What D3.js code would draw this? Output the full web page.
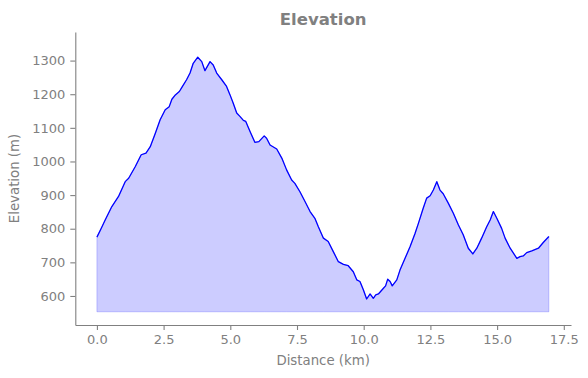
<!DOCTYPE html>
<html>
<head>
<meta charset="utf-8">
<script src="https://cdn.jsdelivr.net/npm/d3@7"></script>
<style>
  body { margin: 0; background: #fff; }
  svg { display: block; font-family: "DejaVu Sans", sans-serif; }
</style>
</head>
<body>
<svg width="588" height="378"></svg>
<script>
// distance along the route (km) and elevation (m)
const distance = [
  0.00, 0.15, 0.31, 0.56, 0.81, 1.06, 1.19, 1.44, 1.66, 1.84,
  2.00, 2.19, 2.37, 2.56, 2.71, 2.81, 2.94, 3.09, 3.19, 3.36,
  3.49, 3.61, 3.78, 3.93, 4.05, 4.24, 4.36, 4.49, 4.68, 4.86,
  4.99, 5.11, 5.24, 5.36, 5.49, 5.58, 5.74, 5.92, 6.07, 6.27,
  6.36, 6.49, 6.74, 6.93, 7.11, 7.30, 7.42, 7.61, 7.80, 7.99,
  8.17, 8.30, 8.49, 8.67, 8.86, 9.05, 9.24, 9.42, 9.61, 9.74,
  9.86, 9.99, 10.11, 10.24, 10.36, 10.45, 10.55, 10.74, 10.82, 10.90,
  10.99, 11.07, 11.24, 11.36, 11.55, 11.74, 11.92, 12.05, 12.23, 12.36,
  12.49, 12.61, 12.74, 12.86, 12.98, 13.17, 13.36, 13.55, 13.73, 13.92,
  14.09, 14.24, 14.42, 14.61, 14.74, 14.86, 14.99, 15.17, 15.30, 15.49,
  15.74, 15.86, 15.98, 16.11, 16.30, 16.55, 16.73, 16.94
];
const elevation = [
  775, 799, 826, 866, 896, 940, 950, 985, 1020, 1025,
  1044, 1084, 1124, 1154, 1163, 1185, 1198, 1208, 1221, 1243,
  1263, 1292, 1310, 1297, 1270, 1297, 1287, 1263, 1243, 1223,
  1198, 1173, 1144, 1134, 1122, 1119, 1089, 1057, 1059, 1076,
  1069, 1049, 1037, 1010, 975, 945, 935, 910, 881, 851,
  831, 806, 772, 762, 732, 702, 694, 690, 672, 648,
  643, 618, 591, 606, 593, 603, 606, 623, 630, 650,
  643, 630, 648, 677, 712, 747, 785, 816, 861, 891,
  898, 915, 940, 915, 904, 876, 846, 811, 782, 742,
  725, 742, 772, 806, 826, 851, 831, 801, 772, 742,
  712, 717, 719, 729, 734, 742, 759, 777
];
const fillBase = 553;
const xTicks = [0, 2.5, 5, 7.5, 10, 12.5, 15, 17.5];
const yTicks = [600, 700, 800, 900, 1000, 1100, 1200, 1300];

const gray = "#808080";
const svg = d3.select("svg");
const margin = { left: 75.3, right: 17, top: 32, bottom: 53 };
const W = 588, H = 378;

const x = d3.scaleLinear().domain([-0.81, 17.77]).range([margin.left, W - margin.right]);
const y = d3.scaleLinear().domain([513.7, 1385]).range([H - margin.bottom, margin.top]);

const pts = distance.map((d, i) => ({ d: d, e: elevation[i] }));

// filled area under the profile
const area = d3.area()
  .x(p => x(p.d))
  .y0(y(fillBase))
  .y1(p => y(p.e));

svg.append("path")
  .datum(pts)
  .attr("d", area)
  .attr("fill", "rgba(0,0,255,0.2)")
  .attr("stroke", "rgba(0,0,255,0.2)")
  .attr("stroke-width", 1);

// profile line
const line = d3.line()
  .x(p => x(p.d))
  .y(p => y(p.e));

svg.append("path")
  .datum(pts)
  .attr("d", line)
  .attr("fill", "none")
  .attr("stroke", "#0000ff")
  .attr("stroke-width", 1.3)
  .attr("stroke-linejoin", "round");

// axes
const xAxis = svg.append("g")
  .attr("transform", `translate(0,${H - margin.bottom})`)
  .call(d3.axisBottom(x).tickValues(xTicks).tickFormat(d3.format(".1f")).tickSize(5).tickPadding(5).tickSizeOuter(0));

const yAxis = svg.append("g")
  .attr("transform", `translate(${margin.left},0)`)
  .call(d3.axisLeft(y).tickValues(yTicks).tickFormat(d3.format("d")).tickSize(5).tickPadding(5).tickSizeOuter(0));

[xAxis, yAxis].forEach(g => {
  g.select(".domain").attr("stroke", gray).attr("stroke-width", 1.1);
  g.selectAll(".tick line").attr("stroke", gray).attr("stroke-width", 1.1);
  g.selectAll(".tick text").attr("fill", gray).style("font-size", "13px")
    .style("font-family", "DejaVu Sans");
});

// title and labels
svg.append("text")
  .attr("x", (margin.left + W - margin.right) / 2)
  .attr("y", 24.5)
  .attr("text-anchor", "middle")
  .attr("fill", gray)
  .style("font-size", "16.5px")
  .style("font-weight", "bold")
  .text("Elevation");

svg.append("text")
  .attr("x", (margin.left + W - margin.right) / 2)
  .attr("y", 365)
  .attr("text-anchor", "middle")
  .attr("fill", gray)
  .style("font-size", "13.3px")
  .text("Distance (km)");

svg.append("text")
  .attr("transform", `translate(19,${(margin.top + H - margin.bottom) / 2}) rotate(-90)`)
  .attr("text-anchor", "middle")
  .attr("fill", gray)
  .style("font-size", "13.3px")
  .text("Elevation (m)");
</script>
</body>
</html>
